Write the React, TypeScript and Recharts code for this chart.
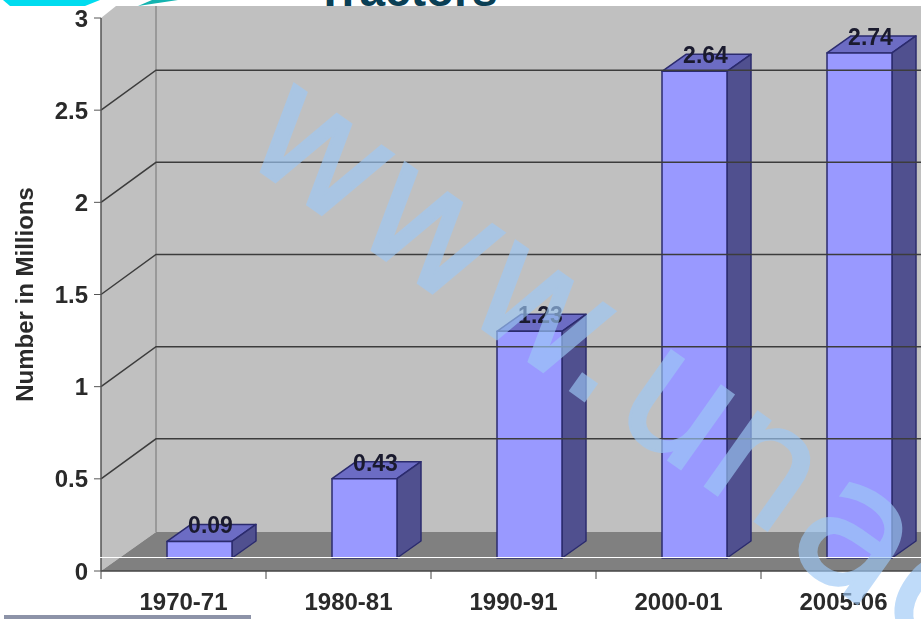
import { BarChart, Bar, XAxis, YAxis, LabelList, ReferenceArea, ReferenceLine } from "recharts";

const categories = ["1970-71", "1980-81", "1990-91", "2000-01", "2005-06"];
const tractors = [0.09, 0.43, 1.23, 2.64, 2.74];
const yTicks = [0, 0.5, 1, 1.5, 2, 2.5, 3];
const gridValues = [0.5, 1, 1.5, 2, 2.5];

const data = categories.map((period, i) => ({ period, value: tractors[i] }));

const FONT = "'Liberation Sans', Arial, sans-serif";
// fake 3d: wall offset and bar depth, in pixels
const WALL_DX = 55;
const WALL_DY = 39;
const BAR_DX = 24;
const BAR_DY = 17;
const BAR_SHIFT_X = 16;
const BAR_SHIFT_Y = 13;

function Walls({ x, y, width, height }: any) {
  const left = x;
  const bottom = y + height;
  const right = x + width;
  const top = 6;
  const bx = left + WALL_DX;
  const by = bottom - WALL_DY;
  return (
    <g>
      <path d={`M${left} ${bottom}L${bx} ${by}L${bx} ${top}L${left + 15} ${top}L${left} ${y}Z`} fill="#c0c0c0" />
      <rect x={bx} y={top} width={right - bx} height={by - top} fill="#c0c0c0" />
      <path d={`M${left} ${bottom}L${bx} ${by}L${right} ${by}L${right} ${bottom}Z`} fill="#808080" />
      <line x1={bx} y1={top} x2={bx} y2={by} stroke="#8c8c8c" strokeWidth={1.5} />
    </g>
  );
}

function WallLine({ x1, y1, x2 }: any) {
  const bx = x1 + WALL_DX;
  const by = y1 - WALL_DY - 1;
  return <path d={`M${x1} ${y1}L${bx} ${by}L${x2} ${by}`} fill="none" stroke="#3c3c3c" strokeWidth={1.5} />;
}

function Bar3D({ x, y, width, height }: any) {
  const fx = x + BAR_SHIFT_X;
  const fy = y - BAR_SHIFT_Y;
  const r = fx + width;
  const b = fy + height;
  return (
    <g stroke="#2b2b6e" strokeWidth={1.5} strokeLinejoin="round">
      <path d={`M${fx} ${fy}L${fx + BAR_DX} ${fy - BAR_DY}L${r + BAR_DX} ${fy - BAR_DY}L${r} ${fy}Z`} fill="#6c6cc4" />
      <path d={`M${r} ${fy}L${r + BAR_DX} ${fy - BAR_DY}L${r + BAR_DX} ${b - BAR_DY}L${r} ${b}Z`} fill="#50508f" />
      <rect x={fx} y={fy} width={width} height={height} fill="#9999ff" />
    </g>
  );
}

function ValueLabel({ x, y, width, value }: any) {
  return (
    <text
      x={x + BAR_SHIFT_X + width / 2 + 11}
      y={y - BAR_SHIFT_Y - 8}
      textAnchor="middle"
      fontFamily={FONT}
      fontWeight="bold"
      fontSize={23}
      fill="#1a1a2e"
    >
      {value}
    </text>
  );
}

function CategoryTick({ x, y, payload }: any) {
  const step = 165;
  return (
    <g>
      <line x1={x - step / 2} y1={571} x2={x - step / 2} y2={579} stroke="#444" />
      <text x={x} y={y + 31} textAnchor="middle" fontFamily={FONT} fontWeight="bold" fontSize={24} fill="#2a2a2a">
        {payload.value}
      </text>
    </g>
  );
}

export default function App() {
  return (
    <div style={{ position: "absolute", left: 0, top: 0, width: 921, height: 619, overflow: "hidden", background: "#fff" }}>
      <div style={{ filter: "blur(0.6px)" }}>
        <BarChart
          width={926}
          height={619}
          data={data}
          barSize={65}
          margin={{ top: 18, right: 0, bottom: 0, left: 0 }}
        >
          <ReferenceArea y1={0} y2={3} ifOverflow="visible" shape={<Walls />} />
          {gridValues.map((v) => (
            <ReferenceLine key={v} y={v} ifOverflow="visible" shape={<WallLine />} />
          ))}
          <XAxis
            dataKey="period"
            height={48}
            tickLine={false}
            interval={0}
            axisLine={{ stroke: "#444", strokeWidth: 1.5 }}
            tick={<CategoryTick />}
          />
          <YAxis
            width={101}
            domain={[0, 3]}
            ticks={yTicks}
            interval={0}
            tickSize={7}
            tickMargin={6}
            axisLine={{ stroke: "#555", strokeWidth: 1.5 }}
            tickLine={{ stroke: "#555" }}
            tick={{ fontFamily: FONT, fontWeight: "bold", fontSize: 24, fill: "#2a2a2a" }}
            label={{
              value: "Number in Millions",
              angle: -90,
              position: "insideLeft",
              offset: 24,
              style: { fontFamily: FONT, fontWeight: "bold", fontSize: 24, fill: "#2a2a2a", textAnchor: "middle" },
            }}
          />
          <Bar dataKey="value" shape={<Bar3D />} isAnimationActive={false}>
            <LabelList dataKey="value" content={<ValueLabel />} />
          </Bar>
        </BarChart>
      </div>
      {/* slide leftovers around the chart picture */}
      <svg width={921} height={619} style={{ position: "absolute", left: 0, top: 0 }}>
        <rect x={0} y={0} width={921} height={6} fill="#fff" />
        <path d="M3 0L100 0L85 6L10 6Z" fill="#00dcef" />
        <path d="M138 6L152 0L178 0Z" fill="#14b4b0" />
        <text x={316} y={6} fontFamily={FONT} fontWeight="bold" fontSize={46} fill="#0a3f55">
          Tractors
        </text>
        <line x1={0} y1={557.5} x2={921} y2={557.5} stroke="#fff" />
        <rect x={4} y={615} width={247} height={4} fill="#8d93a8" />
        <g opacity={0.65}>
          <text
            transform="translate(236 154) rotate(35.3)"
            fontFamily="'DejaVu Sans', sans-serif"
            fontSize={166}
            fill="#9dc8f6"
            stroke="#9dc8f6"
            strokeWidth={2.5}
          >
            www.<tspan dx={10}>un</tspan><tspan dx={8} dy={8} fontSize={180}>ac</tspan>
          </text>
        </g>
      </svg>
    </div>
  );
}
